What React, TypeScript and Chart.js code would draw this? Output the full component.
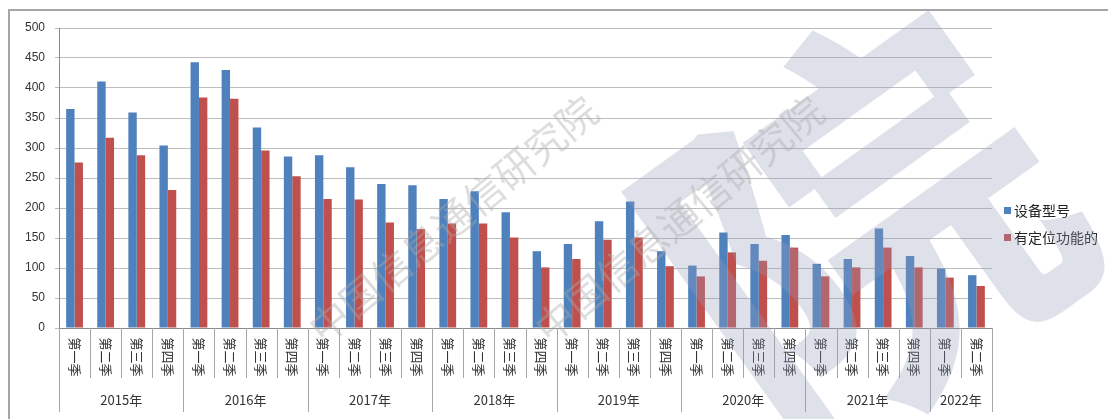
import React, { useEffect, useRef } from "react";
import { Chart, registerables } from "chart.js";

Chart.register(...registerables);

const years = ["2015年", "2016年", "2017年", "2018年", "2019年", "2020年", "2021年", "2022年"];
const quartersPerYear = [4, 4, 4, 4, 4, 4, 4, 2];
const quarterNames = ["第一季", "第二季", "第三季", "第四季"];

const seriesNames = ["设备型号", "有定位功能的"];
const deviceModels = [365, 411, 359, 304, 443, 430, 334, 286, 288, 268, 240, 238, 215, 228, 193, 128, 140, 178, 211, 128, 104, 159, 140, 155, 107, 115, 166, 120, 99, 88];
const withPositioning = [276, 317, 288, 230, 384, 382, 296, 253, 215, 214, 176, 165, 174, 174, 151, 101, 115, 147, 151, 103, 86, 126, 112, 134, 86, 101, 134, 101, 84, 70];

const yTicks = [0, 50, 100, 150, 200, 250, 300, 350, 400, 450, 500];

const BLUE = "#4F81BD";
const RED = "#C0504D";
const FONT = "'Liberation Sans', Arial, sans-serif";
const CJK = "'Noto Sans CJK SC', 'Liberation Sans', sans-serif";

const quarterLabels: string[] = [];
const categoryLabels: string[] = [];
years.forEach((y, yi) => {
  for (let q = 0; q < quartersPerYear[yi]; q++) {
    quarterLabels.push(quarterNames[q]);
    categoryLabels.push(y + quarterNames[q]);
  }
});

const decorPlugin = {
  id: "decor",
  beforeDraw(chart: any) {
    const ctx = chart.ctx;
    ctx.save();
    ctx.fillStyle = "#ffffff";
    ctx.fillRect(0, 0, chart.width, chart.height);
    ctx.strokeStyle = "#a6a6a6";
    ctx.lineWidth = 2;
    ctx.beginPath();
    ctx.moveTo(9, chart.height + 2);
    ctx.lineTo(9, 10);
    ctx.lineTo(chart.width + 2, 10);
    ctx.stroke();
    ctx.restore();
  },
  afterDraw(chart: any) {
    const ctx = chart.ctx;
    const xs = chart.scales.x;
    const area = chart.chartArea;
    const n = quarterLabels.length;
    const step = (xs.right - xs.left) / n;
    ctx.save();
    // separators
    ctx.strokeStyle = "#a6a6a6";
    ctx.lineWidth = 1;
    const yearStarts = new Set<number>();
    let acc = 0;
    quartersPerYear.forEach((c) => {
      yearStarts.add(acc);
      acc += c;
    });
    yearStarts.add(acc);
    for (let i = 0; i <= n; i++) {
      const x = Math.round(xs.getPixelForValue(Math.min(i, n - 1)) + (i === n ? step / 2 : -step / 2)) + 0.5;
      const yEnd = yearStarts.has(i) ? area.bottom + 84 : area.bottom + 50;
      ctx.beginPath();
      ctx.moveTo(x, area.bottom);
      ctx.lineTo(x, yEnd);
      ctx.stroke();
    }
    // quarter labels (rotated clockwise)
    ctx.fillStyle = "#333333";
    ctx.font = "13px " + CJK;
    ctx.textAlign = "center";
    ctx.textBaseline = "middle";
    for (let i = 0; i < n; i++) {
      const x = xs.getPixelForValue(i);
      ctx.save();
      ctx.translate(x, area.bottom + 29);
      ctx.rotate(Math.PI / 2);
      ctx.fillText(quarterLabels[i], 0, 0);
      ctx.restore();
    }
    // year labels
    ctx.font = "13px " + CJK;
    let start = 0;
    years.forEach((y, yi) => {
      const end = start + quartersPerYear[yi] - 1;
      const x = (xs.getPixelForValue(start) + xs.getPixelForValue(end)) / 2;
      ctx.fillText(y, x, area.bottom + 72);
      start = end + 1;
    });
    // legend
    const colors = [BLUE, RED];
    const legendY = [211, 238];
    ctx.font = "14px " + CJK;
    ctx.textAlign = "left";
    seriesNames.forEach((name, i) => {
      ctx.fillStyle = colors[i];
      ctx.fillRect(1004, legendY[i] - 4, 7, 7);
      ctx.fillStyle = "#222222";
      ctx.fillText(name, 1014, legendY[i]);
    });
    // watermark
    ctx.fillStyle = "rgba(150,155,185,0.3)";
    ctx.font = "bold 400px " + CJK;
    ctx.save();
    ctx.translate(850, 215);
    ctx.rotate(-0.62);
    ctx.fillText("院", -200, 20);
    ctx.restore();
    ctx.fillStyle = "rgba(170,170,170,0.4)";
    ctx.font = "40px " + CJK;
    [[314, 334], [540, 334]].forEach(([wx, wy]) => {
      ctx.save();
      ctx.translate(wx, wy);
      ctx.rotate(-0.69);
      ctx.textAlign = "left";
      ctx.fillText("中国信息通信研究院", 0, 0);
      ctx.restore();
    });
    ctx.restore();
  },
};

export default function App() {
  const ref = useRef<HTMLCanvasElement | null>(null);
  useEffect(() => {
    if (!ref.current) return;
    const chart = new Chart(ref.current, {
      type: "bar",
      data: {
        labels: categoryLabels,
        datasets: [
          { label: seriesNames[0], data: deviceModels, backgroundColor: BLUE, categoryPercentage: 0.54, barPercentage: 1 },
          { label: seriesNames[1], data: withPositioning, backgroundColor: RED, categoryPercentage: 0.54, barPercentage: 1 },
        ],
      },
      options: {
        animation: false,
        responsive: true,
        maintainAspectRatio: false,
        layout: { padding: { left: 0, top: 28, right: 116, bottom: 0 } },
        plugins: { legend: { display: false }, tooltip: { enabled: false } },
        scales: {
          x: {
            ticks: { display: false },
            grid: { display: false },
            border: { display: true, color: "#8c8c8c", width: 1 },
            afterFit(scale: any) {
              scale.height = 91;
            },
          },
          y: {
            min: 0,
            max: 500,
            afterBuildTicks(scale: any) {
              scale.ticks = yTicks.map((v) => ({ value: v }));
            },
            ticks: { color: "#333333", font: { family: FONT, size: 12 }, padding: 10 },
            grid: { color: "#bdbdbd", lineWidth: 1, tickLength: 4, drawTicks: true },
            border: { display: true, color: "#8c8c8c", width: 1 },
            afterFit(scale: any) {
              scale.width = 59;
            },
          },
        },
      },
      plugins: [decorPlugin],
    });
    return () => chart.destroy();
  }, []);
  return (
    <div style={{ position: "fixed", left: 0, top: 0, width: 1108, height: 419 }}>
      <canvas ref={ref} />
    </div>
  );
}
